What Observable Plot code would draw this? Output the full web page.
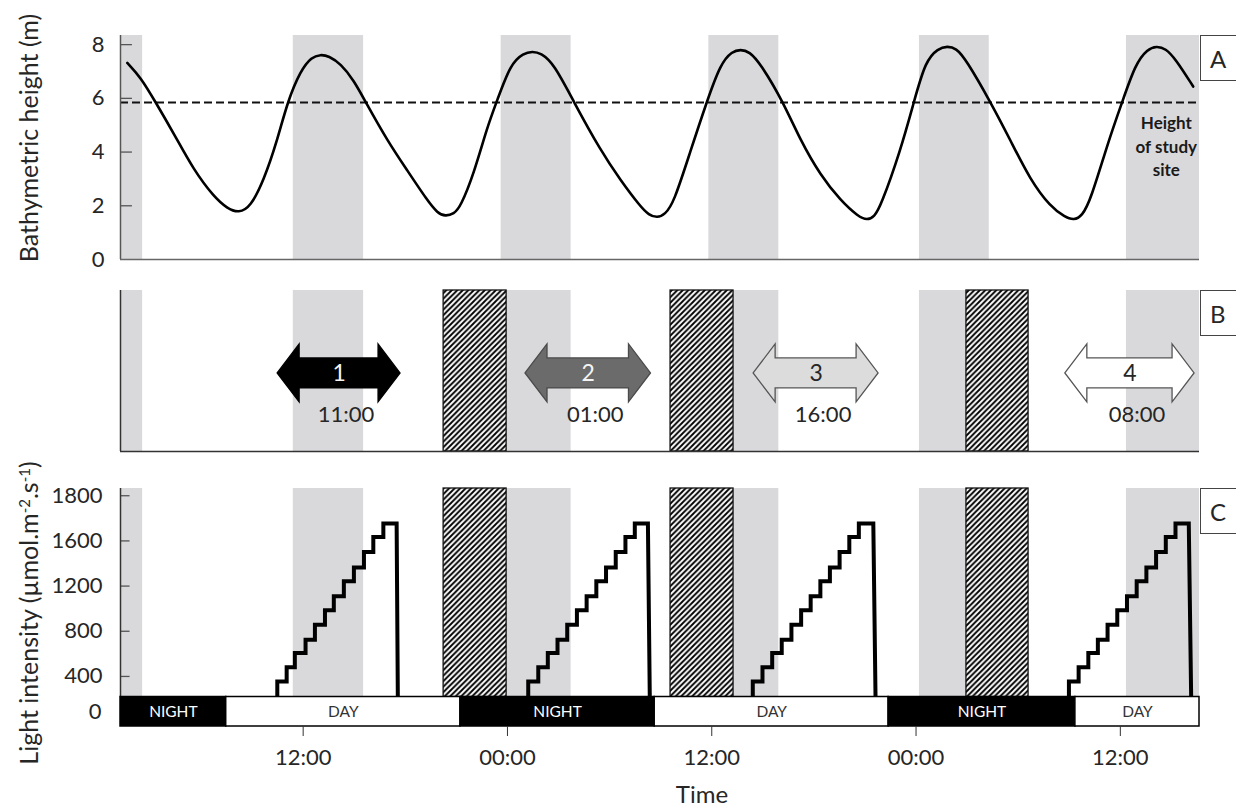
<!DOCTYPE html>
<html><head><meta charset="utf-8">
<script src="https://cdn.jsdelivr.net/npm/d3@7"></script>
<script src="https://cdn.jsdelivr.net/npm/@observablehq/plot@0.6"></script>
<style>
html,body{margin:0;padding:0;background:#fff;overflow:hidden}
#fig{position:relative;width:1236px;height:807px;overflow:hidden;font-family:Lato,sans-serif;color:#262626;background:#fff}
.ytitle{position:absolute;transform:translate(-50%,-50%) rotate(-90deg);white-space:nowrap;font-size:25px;line-height:1}
.ytitle sup{font-size:15px;vertical-align:8px;line-height:0}
.letter{position:absolute;left:1200px;width:44px;height:46px;border:1.3px solid #444;background:#fff;font-size:24px;display:flex;align-items:center;padding-left:9px;box-sizing:border-box}
.xtitle{position:absolute;font-size:24px;transform:translate(-50%,-50%);white-space:nowrap}
</style></head><body><div id="fig"></div><script>
// ---- data (time in hours from the first midnight) ----
const tideTime = [1.67, 2.45, 3.33, 4.41, 5.58, 6.76, 7.54, 8.22, 8.91, 9.69, 10.48, 11.07, 11.85, 12.5, 13.02, 13.5, 14.20, 14.98, 15.67, 16.94, 18.11, 19.29, 19.9, 20.36, 20.85, 21.24, 22.03, 22.81, 23.36, 24.18, 24.95, 25.46, 25.95, 26.73, 27.90, 29.47, 30.64, 31.82, 32.3, 32.80, 33.25, 33.76, 34.76, 35.70, 36.52, 37.2, 37.69, 38.2, 38.87, 40.20, 41.21, 42.39, 43.56, 44.6, 45.13, 45.55, 45.91, 47.09, 47.87, 48.56, 49.3, 49.83, 50.35, 50.91, 52.38, 53.55, 54.72, 55.90, 56.75, 57.27, 57.75, 58.25, 59.31, 60.11, 60.89, 61.6, 62.13, 62.65, 63.24, 64.28];
const tideHeight = [7.32, 6.79, 5.86, 4.68, 3.32, 2.33, 1.90, 1.73, 1.96, 2.95, 4.43, 5.86, 7.04, 7.54, 7.63, 7.58, 7.29, 6.67, 5.86, 4.43, 3.32, 2.20, 1.72, 1.61, 1.70, 1.96, 3.20, 4.93, 5.86, 7.29, 7.68, 7.75, 7.69, 7.29, 5.86, 4.06, 2.95, 1.96, 1.66, 1.55, 1.68, 2.09, 4.06, 5.86, 7.30, 7.75, 7.82, 7.75, 7.29, 5.86, 4.43, 3.13, 2.20, 1.60, 1.46, 1.60, 1.96, 4.06, 5.86, 7.41, 7.86, 7.94, 7.87, 7.47, 5.86, 4.43, 2.95, 1.96, 1.58, 1.46, 1.62, 2.20, 4.43, 5.86, 7.29, 7.84, 7.94, 7.86, 7.47, 6.44];
const siteHeight = 5.85;
const siteLabel = "Height\nof study\nsite";
const siteLabelTime = 62.7;

const highTideStart = [1.27, 11.42, 23.63, 35.83, 48.2, 60.36];
const highTideEnd   = [2.57, 15.55, 27.74, 39.94, 52.3, 64.65];

const hatchStart = [20.25, 33.58, 50.96];
const hatchEnd   = [23.95, 37.28, 54.61];

const arrowLabels = ["1", "2", "3", "4"];
const arrowTimes  = ["11:00", "01:00", "16:00", "08:00"];
const arrowStart  = [10.5, 25.06, 38.46, 56.77];
const arrowEnd    = [17.72, 32.43, 45.8, 64.36];

const lightLevels = [356, 482, 607, 725, 858, 985, 1109, 1242, 1364, 1502, 1635, 1754];
const stepTimes = [
  [10.48, 11.03, 11.51, 12.14, 12.69, 13.28, 13.80, 14.39, 14.98, 15.57, 16.12, 16.71, 17.49],
  [25.22, 25.81, 26.37, 26.94, 27.51, 28.08, 28.65, 29.22, 29.79, 30.36, 30.93, 31.48, 32.25],
  [38.41, 38.98, 39.55, 40.11, 40.68, 41.25, 41.81, 42.38, 42.94, 43.51, 44.08, 44.64, 45.49],
  [56.98, 57.55, 58.12, 58.68, 59.25, 59.82, 60.39, 60.96, 61.53, 62.10, 62.67, 63.24, 64.02]
];
const dropTimes = [17.56, 32.36, 45.62, 64.16];

const periodLabels = ["NIGHT", "DAY", "NIGHT", "DAY", "NIGHT", "DAY"];
const periodStart  = [1.27, 7.48, 21.24, 32.65, 46.39, 57.36];
const periodEnd    = [7.48, 21.24, 32.65, 46.39, 57.36, 64.65];

const timeTicks = [12, 24, 36, 48, 60];
const timeTickLabels = ["12:00", "00:00", "12:00", "00:00", "12:00"];
const heightTicks = [0, 2, 4, 6, 8];
const lightTicks = [400, 800, 1200, 1600, 2000];
const lightTickLabels = ["400", "800", "1200", "1600", "1800"];

// ---- tables ----
const tide = tideTime.map((t, i) => ({t, h: tideHeight[i]}));
const high = highTideStart.map((s, i) => ({s, e: highTideEnd[i]}));
const hatch = hatchStart.map((s, i) => ({s, e: hatchEnd[i]}));
const arrows = arrowLabels.map((label, i) => ({label, time: arrowTimes[i], s: arrowStart[i], e: arrowEnd[i], i}));
const periods = periodLabels.map((label, i) => ({label, s: periodStart[i], e: periodEnd[i]}));
const stairs = [];
stepTimes.forEach((ts, c) => {
  stairs.push({c, t: ts[0], v: 0});
  lightLevels.forEach((v, i) => { stairs.push({c, t: ts[i], v}); stairs.push({c, t: ts[i + 1], v}); });
  stairs.push({c, t: dropTimes[c], v: 0});
});

// ---- layout ----
const W = 1236, ML = 120, MR = 37;
const xDomain = [1.27, 64.65];
const innerTick = 0.7; // hours: length of the inward tick marks
const GREY = "#d9d9dc";
const baseStyle = {fontFamily: "Lato, sans-serif", fontSize: "21px", overflow: "visible", background: "transparent", color: "#262626"};
const fig = document.getElementById("fig");
function place(node, top) { node.style.position = "absolute"; node.style.left = "0px"; node.style.top = top + "px"; fig.appendChild(node); return node; }
function addHatch(svg, id) {
  d3.select(svg).insert("defs", ":first-child").html(
    `<pattern id="${id}" patternUnits="userSpaceOnUse" width="5.5" height="5.5">
       <rect width="5.5" height="5.5" fill="#fff"/>
       <path d="M-1.375,1.375L1.375,-1.375M0,5.5L5.5,0M4.125,6.875L6.875,4.125" stroke="#000" stroke-width="1.9"/>
     </pattern>`);
}

// ---- Panel A ----
const plotA = Plot.plot({
  width: W, height: 275, marginLeft: ML, marginRight: MR, marginTop: 35, marginBottom: 16,
  style: baseStyle,
  x: {domain: xDomain, axis: null},
  y: {domain: [0, 8.34], axis: null},
  marks: [
    Plot.rect(high, {x1: "s", x2: "e", fill: GREY}),
    Plot.ruleY([siteHeight], {stroke: "#111", strokeWidth: 2, strokeDasharray: "8,4"}),
    Plot.line(tide, {x: "t", y: "h", curve: "basis", stroke: "#000", strokeWidth: 2.6}),
    Plot.ruleY(heightTicks.slice(1), {x1: xDomain[0], x2: xDomain[0] + innerTick, stroke: "#555", strokeWidth: 1.3}),
    Plot.ruleX([xDomain[0]], {stroke: "#555", strokeWidth: 1.5}),
    Plot.ruleY([0], {stroke: "#666", strokeWidth: 1.6}),
    Plot.axisY(heightTicks, {tickSize: 0, tickPadding: 16, fontSize: 22, fill: "#262626", label: null}),
    Plot.text([siteLabel], {x: siteLabelTime, y: siteHeight, text: d => d, dy: 43, lineAnchor: "middle", lineHeight: 1.38, fontSize: 17, fontWeight: "bold", fill: "#1a1a1a"})
  ]
});
place(plotA, 0);

// ---- Panel B ----
const arrowFill = ["#000", "#6b6b6b", "#dcdcdc", "#fff"];
const arrowStroke = ["#000", "#4a4a4a", "#555", "#555"];
function arrowShapes(index, scales) {
  const g = d3.create("svg:g");
  const yc = scales.y(0.485), hl = 22, hh = 29, sh = 15;
  arrows.forEach(a => {
    const x0 = scales.x(a.s), x1 = scales.x(a.e);
    const d = `M${x0},${yc}L${x0 + hl},${yc - hh}L${x0 + hl},${yc - sh}L${x1 - hl},${yc - sh}L${x1 - hl},${yc - hh}L${x1},${yc}L${x1 - hl},${yc + hh}L${x1 - hl},${yc + sh}L${x0 + hl},${yc + sh}L${x0 + hl},${yc + hh}Z`;
    g.append("path").attr("d", d).attr("fill", arrowFill[a.i]).attr("stroke", arrowStroke[a.i]).attr("stroke-width", 1.3);
  });
  return g.node();
}
const plotB = Plot.plot({
  width: W, height: 180, marginLeft: ML, marginRight: MR, marginTop: 10, marginBottom: 9,
  style: baseStyle,
  x: {domain: xDomain, axis: null},
  y: {domain: [0, 1], axis: null},
  marks: [
    Plot.rect(high, {x1: "s", x2: "e", fill: GREY}),
    Plot.rect(hatch, {x1: "s", x2: "e", fill: "url(#hatchB)", stroke: "#111", strokeWidth: 1.3}),
    Plot.ruleX([xDomain[0]], {stroke: "#333", strokeWidth: 1.5}),
    Plot.ruleY([0], {stroke: "#333", strokeWidth: 1.5}),
    arrowShapes,
    Plot.text(arrows, {filter: d => d.i < 2, x: d => (d.s + d.e) / 2, y: 0.485, text: "label", fill: "#f4f4f4", fontSize: 23}),
    Plot.text(arrows, {filter: d => d.i >= 2, x: d => (d.s + d.e) / 2, y: 0.485, text: "label", fill: "#262626", fontSize: 23}),
    Plot.text(arrows, {x: d => (d.s + d.e) / 2, y: 0.23, dx: 7, text: "time", fill: "#262626", fontSize: 22})
  ]
});
addHatch(plotB, "hatchB");
place(plotB, 280);

// ---- Panel C ----
const plotC = Plot.plot({
  width: W, height: 240, marginLeft: ML, marginRight: MR, marginTop: 18, marginBottom: 13.5,
  style: baseStyle,
  x: {domain: xDomain, axis: null},
  y: {domain: [218, 2064], clamp: true, axis: null},
  marks: [
    Plot.rect(high, {x1: "s", x2: "e", fill: GREY}),
    Plot.rect(hatch, {x1: "s", x2: "e", fill: "url(#hatchC)", stroke: "#111", strokeWidth: 1.3}),
    Plot.ruleY(lightTicks, {x1: xDomain[0], x2: xDomain[0] + innerTick * 0.8, stroke: "#555", strokeWidth: 1.3}),
    Plot.ruleX([xDomain[0]], {stroke: "#333", strokeWidth: 1.5}),
    Plot.axisY(lightTicks, {tickSize: 0, tickPadding: 18, fontSize: 22, fill: "#262626", label: null,
      tickFormat: d => lightTickLabels[lightTicks.indexOf(d)]}),
    Plot.line(stairs, {x: "t", y: "v", z: "c", stroke: "#000", strokeWidth: 4, strokeLinejoin: "miter", strokeMiterlimit: 8})
  ]
});
addHatch(plotC, "hatchC");
place(plotC, 470);

// ---- Night / day bar with time axis ----
const plotBar = Plot.plot({
  width: W, height: 90, marginLeft: ML, marginRight: MR, marginTop: 10.5, marginBottom: 50,
  style: baseStyle,
  x: {domain: xDomain, axis: null},
  color: {domain: ["NIGHT", "DAY"], range: ["#000", "#fff"]},
  marks: [
    Plot.rect(periods, {x1: "s", x2: "e", fill: "label", stroke: "#000", strokeWidth: 1.5}),
    Plot.text(periods, {filter: d => d.label === "NIGHT", x: d => (d.s + d.e) / 2, text: "label", fill: "#fff", fontSize: 15.5}),
    Plot.text(periods, {filter: d => d.label === "DAY", x: d => (d.s + d.e) / 2, text: "label", fill: "#333", fontSize: 15.5}),
    Plot.text(["0"], {text: d => d, frameAnchor: "left", dx: -19, textAnchor: "end", fontSize: 22, fill: "#262626"}),
    Plot.axisX(timeTicks, {anchor: "bottom", tickSize: 10, tickPadding: 13, fontSize: 22, stroke: "#333", fill: "#262626", label: null,
      tickFormat: d => timeTickLabels[timeTicks.indexOf(d)]})
  ]
});
place(plotBar, 686);

// ---- titles and panel letters ----
function addDiv(cls, html, left, top) { const d = document.createElement("div"); d.className = cls; d.innerHTML = html; d.style.left = left + "px"; d.style.top = top + "px"; fig.appendChild(d); return d; }
addDiv("ytitle", "Bathymetric height (m)", 28, 138);
addDiv("ytitle", "Light intensity (µmol.m<sup>-2</sup>.s<sup>-1</sup>)", 28, 613);
addDiv("xtitle", "Time", 702, 793);
addDiv("letter", "A", 1200, 35);
addDiv("letter", "B", 1200, 290);
addDiv("letter", "C", 1200, 488);
</script></body></html>
